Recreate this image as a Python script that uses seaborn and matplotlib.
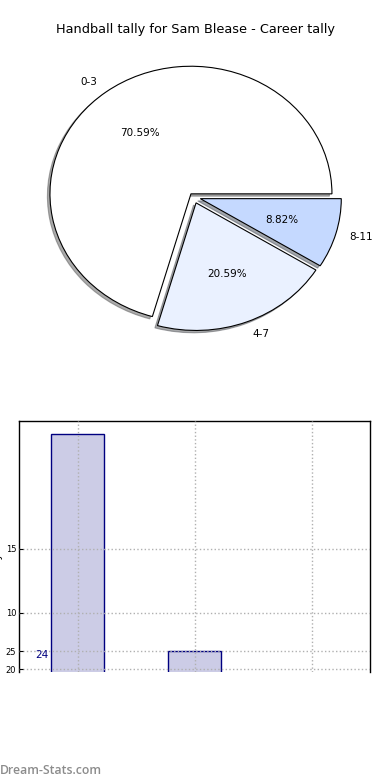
import matplotlib
matplotlib.use('Agg')
import matplotlib.pyplot as plt
import seaborn as sns
import pandas as pd

# Career handball tally by goal range
ranges = ['0-3', '4-7', '8-11']
games = [24, 7, 3]
pie_colors = ['#ffffff', '#eaf1ff', '#c5d9ff']
explode = [0.03, 0.05, 0.05]
title = 'Handball tally for Sam Blease - Career tally'

# second (left) scale shown under the bars
extra_ticks = [20, 25]

sns.set_style('white')
plt.rcParams['font.family'] = ['DejaVu Sans']
plt.rcParams['text.color'] = 'black'
plt.rcParams['xtick.color'] = 'black'
plt.rcParams['ytick.color'] = 'black'

fig = plt.figure(figsize=(3.9, 7.8), dpi=100)

# ---------- Pie ----------
ax_pie = fig.add_axes([17.25 / 390, 1 - 356.4 / 780, 352.5 / 390, 319 / 780])
ax_pie.pie(
    games,
    labels=ranges,
    colors=pie_colors,
    explode=explode,
    autopct='%1.2f%%',
    shadow={'ox': -0.013, 'oy': -0.013, 'shade': 0.65},
    startangle=0,
    wedgeprops={'edgecolor': 'black', 'linewidth': 0.8},
    textprops={'fontsize': 7.5, 'color': 'black'},
)
ax_pie.set_aspect('auto')
ax_pie.set_xlim(-1.25, 1.25)
ax_pie.set_ylim(-1.25, 1.25)
ax_pie.axis('off')

fig.text(0.5, 1 - 30 / 780, title, ha='center', va='center', fontsize=9.3)

# ---------- Bars ----------
bars = pd.DataFrame({'range': ranges, 'games': games})
ax = fig.add_axes([19 / 390, 1 - 672 / 780, 351 / 390, 251 / 780])
sns.barplot(data=bars, x='range', y='games', ax=ax, color='#ccccE6',
            saturation=1, width=0.45, edgecolor='navy', linewidth=1)
ax.set_xlim(-0.5, 2.5)
ax.set_ylim(5.39, 25)
ax.set_yticks([10, 15])
ax.set_xlabel('')
ax.set_ylabel('')
ax.set_xticklabels([])
ax.grid(True, linestyle=':', color='#b0b0b0', linewidth=1)
ax.set_axisbelow(False)
ax.tick_params(axis='y', labelsize=6, direction='in', length=3, right=True, left=True, pad=2)
ax.tick_params(axis='x', length=0)
for side in ['top', 'left', 'right']:
    ax.spines[side].set_visible(True)
    ax.spines[side].set_color('black')
    ax.spines[side].set_linewidth(1)
ax.spines['bottom'].set_visible(False)

ax2 = ax.twinx()
ax2.set_ylim(19.17, 88.9)
ax2.yaxis.tick_left()
ax2.set_yticks(extra_ticks)
ax2.tick_params(axis='y', labelsize=6, direction='in', length=3, pad=2)
ax2.grid(True, axis='y', linestyle=':', color='#b0b0b0', linewidth=1)
ax2.grid(False, axis='x')
for side in ax2.spines:
    ax2.spines[side].set_visible(False)
ax2.text(-0.25, games[0], str(games[0]), color='navy', fontsize=7.5,
         ha='right', va='center')

fig.text(-1.5 / 390, 1 - 580 / 780, 'Total Tally', rotation=90,
         ha='center', va='center', fontsize=8)

fig.text(0.0, 1 - 770 / 780, 'Dream-Stats.com', ha='left', va='center',
         fontsize=8.8, color='#8c8c8c', family=['Open Sans', 'DejaVu Sans'],
         weight='semibold')

fig.savefig('out.png', dpi=100)
